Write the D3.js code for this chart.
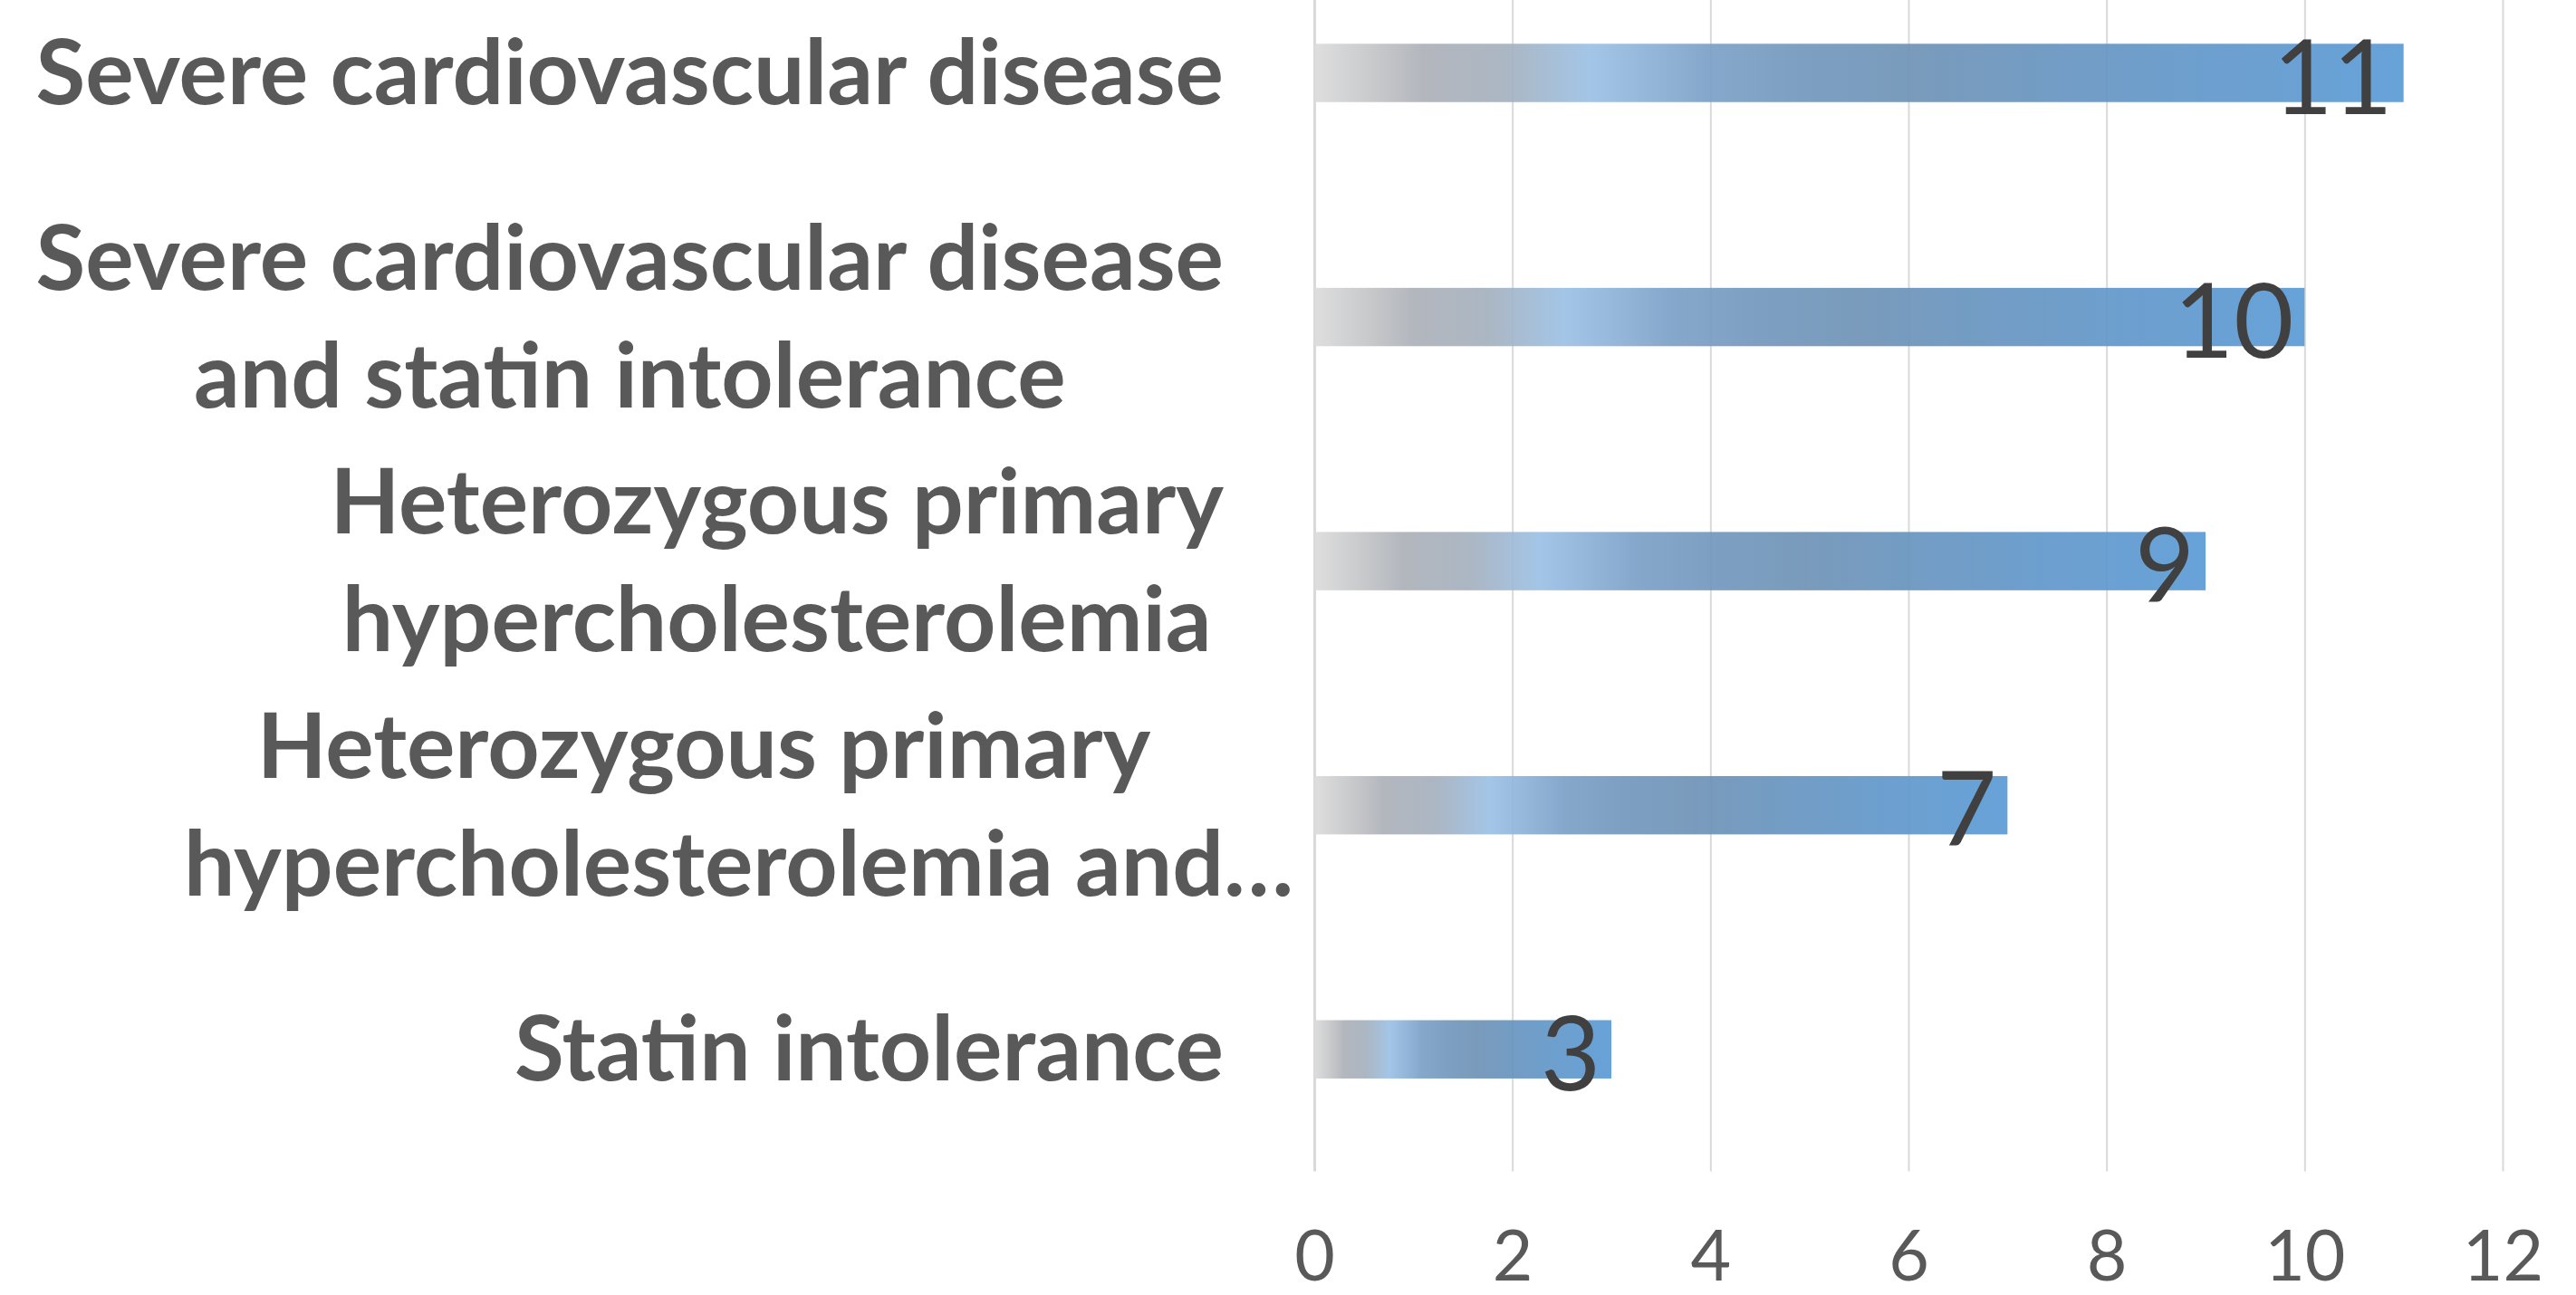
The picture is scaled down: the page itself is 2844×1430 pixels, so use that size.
<!DOCTYPE html>
<html>
<head>
<meta charset="utf-8">
<script src="https://cdn.jsdelivr.net/npm/d3@7"></script>
<style>
  html, body { margin: 0; padding: 0; background: #ffffff; overflow: hidden; }
  svg { display: block; }
</style>
</head>
<body>
<svg id="chart" width="2844" height="1430"></svg>
<script>
// Category labels, already split into the lines they wrap to
const categoryLines = [
  ["Severe cardiovascular disease"],
  ["Severe cardiovascular disease", "and statin intolerance"],
  ["Heterozygous primary", "hypercholesterolemia"],
  ["Heterozygous primary", "hypercholesterolemia and\u2026"],
  ["Statin intolerance"]
];
const values = [11, 10, 9, 7, 3];
const xTicks = [0, 2, 4, 6, 8, 10, 12];

const FONT = "Lato, 'Open Sans', 'Noto Sans', sans-serif";

const svg = d3.select("#chart");

const plot = { left: 1451, right: 2763, top: 0, bottom: 1293.5 };
const step = 269.55;

const x = d3.scaleLinear().domain([0, 12]).range([plot.left, plot.right]);
const y = d3.scaleBand()
  .domain(d3.range(values.length))
  .range([plot.bottom - step * values.length, plot.bottom])
  .paddingInner(0.761)
  .paddingOuter(0.3805);

// Bar fill: grey fading into blue along the bar
const defs = svg.append("defs");
const grad = defs.append("linearGradient")
  .attr("id", "barFill")
  .attr("x1", "0").attr("y1", "0").attr("x2", "1").attr("y2", "0");
[
  [0.00, "#dcdcdc"],
  [0.05, "#c6c7c9"],
  [0.10, "#adb1b8"],
  [0.176, "#a5b1bf"],
  [0.253, "#9cc1e5"],
  [0.30, "#8eb3d9"],
  [0.36, "#7ba1c7"],
  [0.45, "#7398bd"],
  [0.55, "#6f93b6"],
  [0.68, "#6895c0"],
  [0.82, "#6298cb"],
  [1.00, "#5b9bd5"]
].forEach(([o, c]) => grad.append("stop").attr("offset", o).attr("stop-color", c));

// Vertical gridlines and value axis labels
const gx = svg.append("g")
  .attr("transform", `translate(0,${plot.bottom})`)
  .call(d3.axisBottom(x)
    .tickValues(xTicks)
    .tickSize(-(plot.bottom - plot.top))
    .tickPadding(66)
    .tickFormat(d3.format("d")));
gx.select(".domain").remove();
gx.attr("font-family", null).attr("font-size", null);
gx.selectAll(".tick line")
  .attr("stroke", "#d9d9d9")
  .attr("stroke-width", d => d === 0 ? 3 : 2);
gx.selectAll(".tick text")
  .attr("font-family", FONT)
  .attr("font-size", 77)
  .attr("fill", "#595959");

// Bars
svg.append("g")
  .selectAll("rect")
  .data(values)
  .join("rect")
  .attr("x", x(0))
  .attr("y", (d, i) => y(i))
  .attr("width", d => x(d) - x(0))
  .attr("height", y.bandwidth())
  .attr("fill", "url(#barFill)")
  .attr("fill-opacity", 0.93);

// Value labels inside the bar ends
svg.append("g")
  .selectAll("text")
  .data(values)
  .join("text")
  .attr("x", d => x(d) - 12)
  .attr("y", (d, i) => y(i) + y.bandwidth() / 2 + 45)
  .attr("text-anchor", "end")
  .attr("font-family", FONT)
  .attr("font-size", 114)
  .attr("fill", "#404040")
  .text(d => d);

// Category labels: each block is right-aligned, its lines centred on each other
const labelRight = 1351;
const labelSize = 100;
const lineGap = 130;
const labels = svg.append("g")
  .attr("font-family", FONT)
  .attr("font-size", labelSize)
  .attr("font-weight", 700)
  .attr("fill", "#595959");

function measure(str) {
  const t = labels.append("text").text(str);
  const w = t.node().getComputedTextLength();
  t.remove();
  return w;
}

categoryLines.forEach((lines, i) => {
  const cy = y(i) + y.bandwidth() / 2;
  const widths = lines.map(l => measure(l.replace(/\u2026$/, "")));
  const maxW = d3.max(widths);
  const cx = labelRight - maxW / 2;
  const first = cy + labelSize * 0.345 - (lines.length - 1) * lineGap / 2;
  lines.forEach((l, j) => {
    labels.append("text")
      .attr("x", cx - widths[j] / 2)
      .attr("y", first + j * lineGap)
      .text(l);
  });
});
</script>
</body>
</html>
